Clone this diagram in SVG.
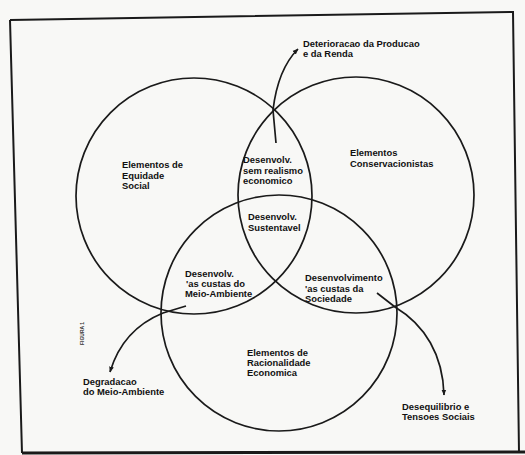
<svg xmlns="http://www.w3.org/2000/svg" width="525" height="455" viewBox="0 0 525 455">
<style>
.c{fill:none;stroke:#1a1a1a;stroke-width:1.7}
.t{font-family:"Liberation Sans",Arial,sans-serif;font-weight:bold;font-size:9.4px;fill:#111}
.a{fill:none;stroke:#1a1a1a;stroke-width:1.7}
</style>
<defs>
<marker id="ah" viewBox="0 0 10 10" refX="9" refY="5" markerWidth="6" markerHeight="6" orient="auto" markerUnits="userSpaceOnUse">
<path d="M0,1 L10,5 L0,9 Z" fill="#1a1a1a"/>
</marker>
</defs>
<rect width="525" height="455" fill="#f8f8f6"/>
<path d="M10,20 L513,12 L519,452 M22,453 L10,20" fill="none" stroke="#1a1a1a" stroke-width="2"/>
<path d="M22,453 L525,452" stroke="#1a1a1a" stroke-width="3"/>
<g id="equidade"><circle class="c" cx="194" cy="196" r="118"/>
<text class="t" x="122" y="168">Elementos de</text><text class="t" x="122" y="179">Equidade</text><text class="t" x="122" y="189">Social</text></g>
<g id="conservacionistas"><circle class="c" cx="356" cy="195" r="118"/>
<text class="t" x="350" y="156">Elementos</text><text class="t" x="350" y="167">Conservacionistas</text></g>
<g id="racionalidade"><circle class="c" cx="279" cy="313" r="118"/>
<text class="t" x="247" y="356">Elementos de</text><text class="t" x="247" y="366">Racionalidade</text><text class="t" x="247" y="376">Economica</text></g>
<g id="sem-realismo"><text class="t" x="243" y="163">Desenvolv.</text><text class="t" x="243" y="174">sem realismo</text><text class="t" x="243" y="184">economico</text></g>
<g id="sustentavel"><text class="t" x="248" y="220">Desenvolv.</text><text class="t" x="248" y="231">Sustentavel</text></g>
<g id="meio-ambiente"><text class="t" x="185" y="277">Desenvolv.</text><text class="t" x="186" y="287">'as custas do</text><text class="t" x="185" y="297">Meio-Ambiente</text></g>
<g id="sociedade"><text class="t" x="305" y="281">Desenvolvimento</text><text class="t" x="305" y="292">'as custas da</text><text class="t" x="305" y="302">Sociedade</text></g>
<g id="deterioracao"><text class="t" x="303" y="47">Deterioracao da Producao</text><text class="t" x="303" y="57">e da Renda</text></g>
<g id="degradacao"><text class="t" x="83" y="385">Degradacao</text><text class="t" x="83" y="395">do Meio-Ambiente</text></g>
<g id="desequilibrio"><text class="t" x="402" y="410">Desequilibrio e</text><text class="t" x="402" y="420">Tensoes Sociais</text></g>
<text x="84" y="345" transform="rotate(-90 84 345)" font-family="Liberation Sans,Arial,sans-serif" font-size="5" font-weight="bold" fill="#333">FIGURA 1</text>
<g id="connectors">
<path class="a" d="M276,143 L273,110 C276,85 283,64 298,49" marker-end="url(#ah)"/>
<path class="a" d="M186,306 L163,313 C136,324 118,345 110,372" marker-end="url(#ah)"/>
<path class="a" d="M377,293 L395,307 C425,325 443,355 444,395" marker-end="url(#ah)"/>
</g>
</svg>
